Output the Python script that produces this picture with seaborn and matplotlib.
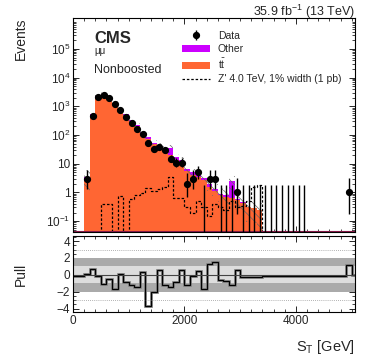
import numpy as np
import pandas as pd
import matplotlib
matplotlib.use("Agg")
import matplotlib.pyplot as plt
import seaborn as sns
from matplotlib.ticker import MultipleLocator, FixedLocator, FuncFormatter, NullFormatter
from matplotlib.patches import Patch
from matplotlib.lines import Line2D

# ---------------- data ----------------
bin_lo = list(range(200, 3500, 100))  # lower edges of bins with MC

# observed data per 100 GeV bin
data_centers = [250, 350, 450, 550, 650, 750, 850, 950, 1050, 1150, 1250, 1350,
                1450, 1550, 1650, 1750, 1850, 1950, 2050, 2150, 2250, 2350, 2450,
                2550, 2650, 2750, 2850, 2950, 3050, 3150, 3250, 3350, 3450, 3550,
                3650, 3750, 3850, 3950, 4050, 4150, 4950]
data_counts = [3, 450, 2050, 2400, 1900, 1180, 750, 440, 265, 160, 110, 51,
               32, 40, 30, 15, 11, 11, 2, 3, 5, 0, 3,
               3, 0, 0, 0, 1, 0, 0, 0, 0, 0, 0,
               0, 0, 0, 0, 0, 0, 1]

# backgrounds, centers 250 ... 3450
ttbar = [2.6, 500, 2200, 2650, 1900, 1280, 810, 495, 310, 210, 120, 75,
         49, 40, 29, 21, 14, 11.5, 5.5, 4.2, 3.5, 2.7, 1.6, 1.15, 0.8,
         0.7, 0.62, 0.55, 0.42, 0.30, 0.28, 0.24, 0.0]
other = [0.9, 25, 100, 150, 100, 70, 50, 30, 20, 14, 12, 12,
         6, 5, 6, 14, 3, 2, 0.9, 0.8, 1.5, 0.4, 0.3, 0.2, 0.12,
         0.1, 1.8, 0.05, 0.03, 0.0, 0.0, 0.0, 0.0]
rel_unc = [0.7, 0.12, 0.1, 0.1, 0.1, 0.1, 0.12, 0.12, 0.14, 0.15, 0.17, 0.18,
           0.2, 0.2, 0.22, 0.3, 0.25, 0.25, 0.3, 0.3, 0.35, 0.35, 0.4, 0.45, 0.5,
           0.5, 0.5, 0.6, 0.6, 0.7, 0.7, 0.8, 0.0]

# Z' signal
signal = [0, 0, 0, 0.39, 0.39, 0, 0.74, 0, 0.59, 0.81, 0.93, 1.38,
          1.1, 1.3, 1.6, 3.5, 0.63, 0.63, 0.3, 0.2, 0.5, 0.3, 0.15, 0.4, 0.3,
          0.25, 0.5, 0.3, 0.35, 0.5, 1.6, 1.8, 0]

# pull per 100 GeV bin from 0 to 5100
pull_vals = [-0.16, -0.16, 0.12, 0.7, -0.08, -1.06, -0.47, -1.65, 0.12, -0.86,
             -1.25, -1.45, 0.31, -3.7, -2.0, 0.63, -1.25, -1.45, -0.86, 0.63,
             -1.18, -0.08, 0.51, -1.65, 1.3, 1.5, -0.59, -0.78, -1.25, 0.63,
             -0.27, -0.27, -0.22, -0.2, -0.18, -0.16, -0.16, -0.16, -0.15, -0.15,
             -0.12, -0.12, -0.12, -0.1, -0.1, -0.1, -0.1, -0.1, -0.1, 1.2, 0.0]

y_ticks = [0.1, 1, 10, 100, 1e3, 1e4, 1e5]
y_tick_labels = [r"$10^{-1}$", "1", "10", r"$10^{2}$", r"$10^{3}$", r"$10^{4}$", r"$10^{5}$"]

# ---------------- style ----------------
sns.set_theme(style="ticks")
plt.rcParams["font.family"] = ["Liberation Sans", "DejaVu Sans"]
plt.rcParams["mathtext.fontset"] = "custom"
plt.rcParams["mathtext.rm"] = "Liberation Sans"
plt.rcParams["mathtext.it"] = "Liberation Sans:italic"
plt.rcParams["mathtext.bf"] = "Liberation Sans:bold"
plt.rcParams["hatch.linewidth"] = 0.5
plt.rcParams["axes.unicode_minus"] = True

TT_COL = "#FF6633"
OTHER_COL = "#CC00FF"

fig = plt.figure(figsize=(3.78, 3.55), dpi=100)
L, R = 73 / 378, 355 / 378
ax = fig.add_axes([L, 1 - 232 / 355, R - L, (232 - 18) / 355])
axp = fig.add_axes([L, 1 - 312 / 355, R - L, (312 - 236) / 355])

XMAX = 5060
centers = [b + 50 for b in bin_lo]
edges = list(range(200, 3500 + 1, 100))

# stacked backgrounds via seaborn
df = pd.DataFrame({
    "st": centers * 2,
    "w": ttbar + other,
    "proc": ["tt"] * len(centers) + ["Other"] * len(centers),
})
sns.histplot(data=df, x="st", weights="w", hue="proc", hue_order=["Other", "tt"],
             multiple="stack", bins=edges, element="bars", linewidth=0,
             palette={"tt": TT_COL, "Other": OTHER_COL}, alpha=1, legend=False, ax=ax)

# uncertainty band
tot = np.array(ttbar) + np.array(other)
unc = tot * np.array(rel_unc)
lo = np.append(tot - unc, (tot - unc)[-1])
hi = np.append(tot + unc, (tot + unc)[-1])
ax.fill_between(edges, np.clip(lo, 1e-3, None), np.clip(hi, 1e-3, None), step="post",
                facecolor="none", edgecolor="#666666", hatch="\\\\\\\\", linewidth=0)

# signal
dfs = pd.DataFrame({"st": centers, "w": signal})
sns.histplot(data=dfs, x="st", weights="w", bins=edges, element="step", fill=False,
             color="black", linestyle=(0, (2, 1.5)), linewidth=0.9, ax=ax, legend=False)

ax.axhline(0.046, color="#8B1A4A", lw=0.8)

# data
n = np.array(data_counts, dtype=float)
x = np.array(data_centers, dtype=float)
pos = n > 0
npos = n[pos]
lo_err = npos - npos * (1 - 1 / (9 * npos) - 1 / (3 * np.sqrt(npos))) ** 3
up_err = (npos + 1) * (1 - 1 / (9 * (npos + 1)) + 1 / (3 * np.sqrt(npos + 1))) ** 3 - npos
h_data = ax.errorbar(x[pos], npos, yerr=[lo_err, up_err], fmt="o", color="black", ms=4.2,
                     elinewidth=1.0, capsize=0, zorder=5)
ax.vlines(x[~pos], 1e-3, 1.84, color="black", lw=1.0, zorder=5)

ax.set_yscale("log")
ax.set_xlim(0, XMAX)
ax.set_ylim(0.042, 1.2e6)
ax.set_xlabel("")
ax.set_ylabel("Events", loc="top", fontsize=10)
ax.yaxis.set_label_coords(-0.16, 1.0)
ax.tick_params(labelbottom=False)

ax.yaxis.set_major_locator(FixedLocator(y_ticks))
ax.set_yticklabels(y_tick_labels)
minor = [m * 10.0 ** e for e in range(-2, 6) for m in range(2, 10)]
minor = [v for v in minor if 0.042 <= v <= 1.2e6]
ax.yaxis.set_minor_locator(FixedLocator(minor))
ax.yaxis.set_minor_formatter(NullFormatter())

for a in (ax, axp):
    a.xaxis.set_major_locator(MultipleLocator(2000))
    a.xaxis.set_minor_locator(MultipleLocator(200))
    a.tick_params(which="both", direction="in", top=True, right=True, labelsize=8.5, pad=2)
    a.tick_params(which="major", length=4, width=0.7)
    a.tick_params(which="minor", length=2.2, width=0.6)
    for s in a.spines.values():
        s.set_linewidth(0.8)
        s.set_color("black")

# legend
h_other = Patch(facecolor=OTHER_COL, edgecolor="none")
h_tt = Patch(facecolor=TT_COL, edgecolor="none")
h_sig = Line2D([0], [0], color="black", linestyle=(0, (2, 1.5)), lw=0.9)
ax.legend([h_data, h_other, h_tt, h_sig],
          ["Data", "Other", r"t$\bar{\rm t}$", "Z' 4.0 TeV, 1% width (1 pb)"],
          loc="upper left", bbox_to_anchor=(0.37, 0.96), frameon=False, fontsize=7.5,
          handlelength=2.7, handletextpad=0.8, labelspacing=0.3, borderaxespad=0)

ax.text(0.075, 0.885, "CMS", transform=ax.transAxes, fontsize=12, fontweight="bold",
        va="baseline", ha="left")
ax.text(0.075, 0.83, "μμ", transform=ax.transAxes, fontsize=7, va="baseline", ha="left")
ax.text(0.075, 0.745, "Nonboosted", transform=ax.transAxes, fontsize=9,
        va="baseline", ha="left")
fig.text(R, 1 - 16 / 355, r"35.9 fb$^{-1}$ (13 TeV)", fontsize=9,
         ha="right", va="baseline")

# pull panel
axp.axhspan(-2, 2, color="#AAAAAA", lw=0)
axp.axhspan(-1, 1, color="#DDDDDD", lw=0)
axp.axhline(0, color="#444444", lw=0.8)
for yv in (3, -3):
    axp.axhline(yv, color="#999999", lw=0.6, ls=(0, (1, 1.5)))
pedges = np.arange(0, 100 * len(pull_vals) + 1, 100)
axp.stairs(pull_vals, pedges, color="#888888", lw=2.0, baseline=None)
axp.stairs(pull_vals, pedges, color="black", lw=0.9, baseline=None)
axp.set_xlim(0, XMAX)
axp.set_ylim(-4.4, 4.6)
axp.yaxis.set_major_locator(FixedLocator([-4, -2, 0, 2, 4]))
axp.yaxis.set_minor_locator(FixedLocator([v / 2 for v in range(-8, 10) if v % 4 != 0]))
axp.set_ylabel("Pull", fontsize=10)
axp.yaxis.set_label_coords(-0.16, 0.5)
axp.set_xlabel(r"S$_{\rm T}$ [GeV]", loc="right", fontsize=10.5, labelpad=8)

fig.savefig("out.png", dpi=100)
